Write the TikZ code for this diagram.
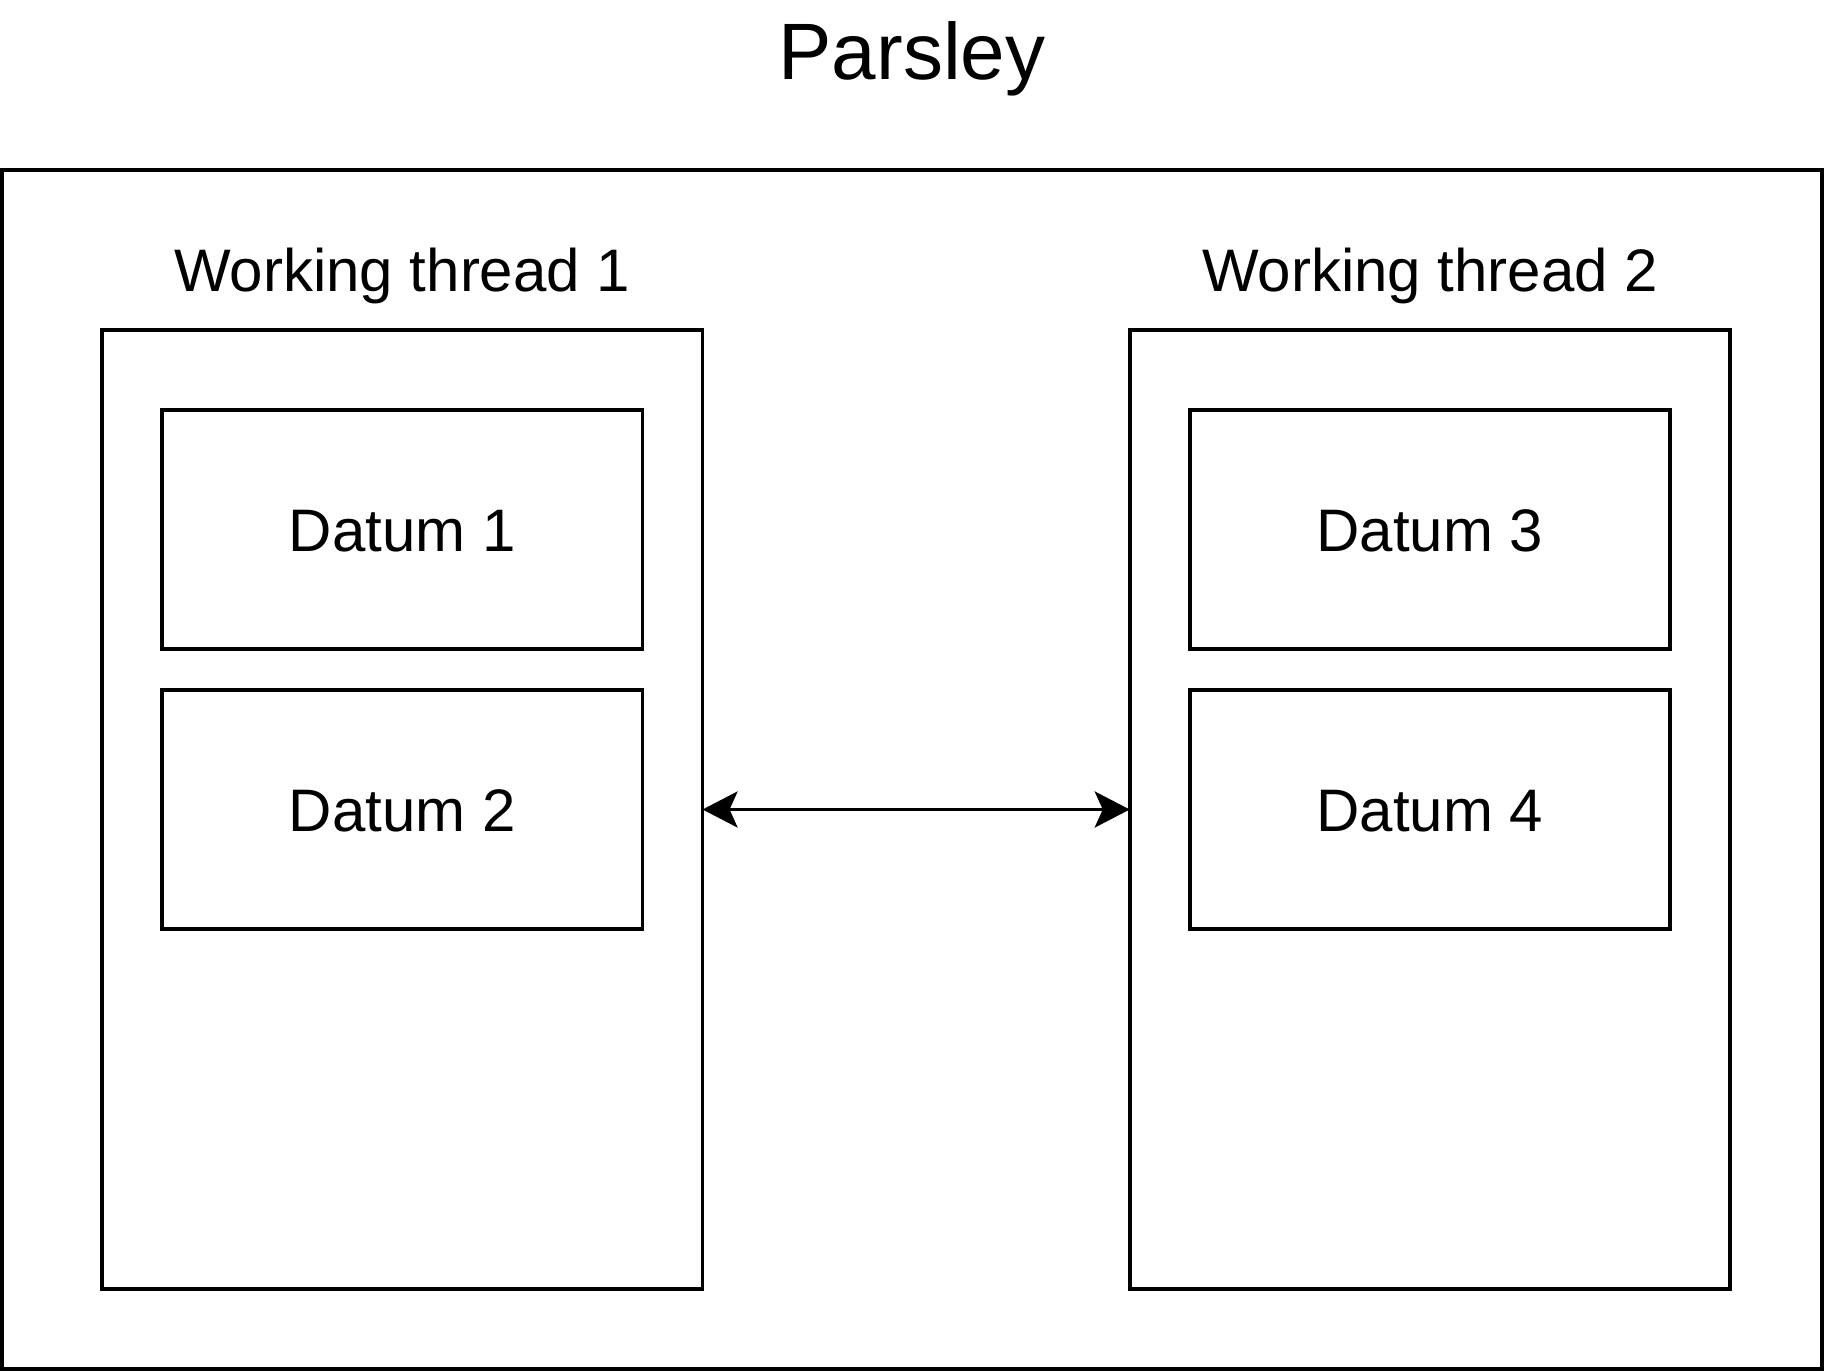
\documentclass[tikz,border=0pt]{standalone}
\usepackage{fontspec}
\setmainfont{Liberation Sans}
\usetikzlibrary{arrows.meta}
\begin{document}
\begin{tikzpicture}[x=1pt,y=-1pt,
  boxstyle/.style={draw=black, line width=3.6pt, inner sep=0pt, outer sep=0pt, fill=white},
  labelstyle/.style={inner sep=0pt, anchor=base, font=\fontsize{60}{72}\selectfont},
  titlestyle/.style={inner sep=0pt, anchor=base, font=\fontsize{80}{96}\selectfont},
  conn/.style={line width=3.6pt, {Stealth[length=35pt,width=36pt,inset=8pt]}-{Stealth[length=35pt,width=36pt,inset=8pt]}}]
\useasboundingbox (0,0) rectangle (1824,1372);
\fill[white] (0,0) rectangle (1824,1372);
\node[titlestyle] (title) at (912,80) {Parsley};
\node[boxstyle, minimum width=1820pt, minimum height=1199pt] (outer) at (912,769.5) {};
\node[boxstyle, minimum width=600.5pt, minimum height=959pt] (t1) at (402.3,809.5) {};
\node[boxstyle, minimum width=600.5pt, minimum height=959pt] (t2) at (1430,809.5) {};
\node[labelstyle] (l1) at (402.3,291.7) {Working thread 1};
\node[labelstyle] (l2) at (1430,291.7) {Working thread 2};
\node[boxstyle, minimum width=480.5pt, minimum height=239pt] (d1) at (402.3,529.5) {};
\node[boxstyle, minimum width=480.5pt, minimum height=239pt] (d2) at (402.3,809.7) {};
\node[boxstyle, minimum width=480.5pt, minimum height=239pt] (d3) at (1430,529.5) {};
\node[boxstyle, minimum width=480.5pt, minimum height=239pt] (d4) at (1430,809.7) {};
\node[labelstyle] (d1t) at ([yshift=-22pt]d1.center) {Datum 1};
\node[labelstyle] (d2t) at ([yshift=-22pt]d2.center) {Datum 2};
\node[labelstyle] (d3t) at ([yshift=-22pt]d3.center) {Datum 3};
\node[labelstyle] (d4t) at ([yshift=-22pt]d4.center) {Datum 4};
\draw[conn] (t1.east) -- (t2.west);
\end{tikzpicture}
\end{document}
